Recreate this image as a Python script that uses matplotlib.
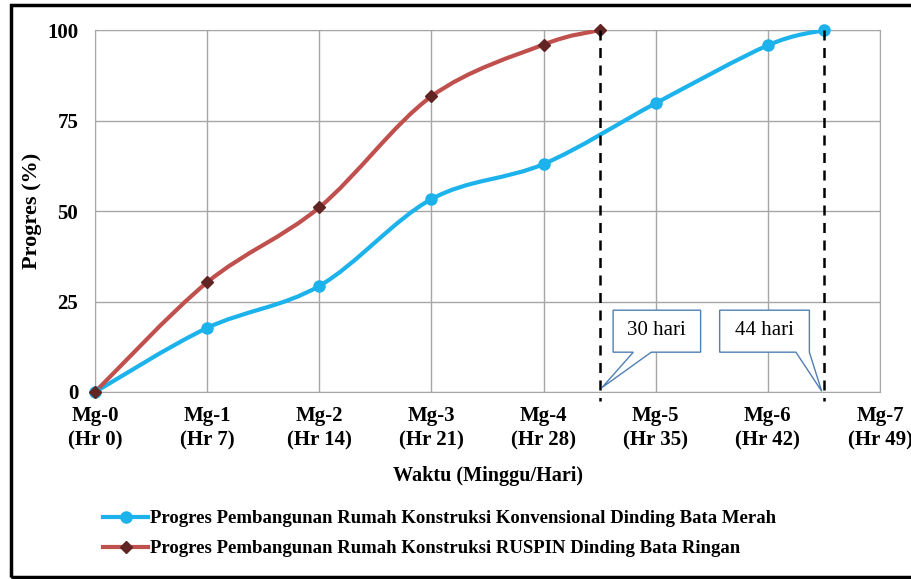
import matplotlib.pyplot as plt
import matplotlib.patches as mpatches
from matplotlib.path import Path
from matplotlib.lines import Line2D
import numpy as np

plt.rcParams['font.family'] = ['Liberation Serif', 'DejaVu Serif']
plt.rcParams['font.weight'] = 'bold'

# data (x in weeks)
week_labels = ['Mg-0\n(Hr 0)', 'Mg-1\n(Hr 7)', 'Mg-2\n(Hr 14)', 'Mg-3\n(Hr 21)',
               'Mg-4\n(Hr 28)', 'Mg-5\n(Hr 35)', 'Mg-6\n(Hr 42)', 'Mg-7\n(Hr 49)']
konv_x = [0, 1, 2, 3, 4, 5, 6, 6.5]
konv_y = [0, 17.7, 29.3, 53.3, 63.0, 79.8, 95.8, 100]
ruspin_x = [0, 1, 2, 3, 4, 4.5]
ruspin_y = [0, 30.3, 51.0, 81.7, 96.0, 100]
finish_x = [4.5, 6.5]
finish_labels = ['30 hari', '44 hari']

label_konv = 'Progres Pembangunan Rumah Konstruksi Konvensional Dinding Bata Merah'
label_ruspin = 'Progres Pembangunan Rumah Konstruksi RUSPIN Dinding Bata Ringan'

blue = '#1CB2EC'
red = '#C0504D'
dark_red = '#632523'


def smooth_path(xs, ys, t=1/6):
    # excel-like smoothed line: catmull-rom through the points as cubic beziers
    p = np.column_stack([xs, ys]).astype(float)
    verts = [p[0]]
    codes = [Path.MOVETO]
    n = len(p)
    for i in range(n - 1):
        p0 = p[i - 1] if i > 0 else p[i]
        p3 = p[i + 2] if i + 2 < n else p[i + 1]
        c1 = p[i] + (p[i + 1] - p0) * t
        c2 = p[i + 1] - (p3 - p[i]) * t
        verts += [c1, c2, p[i + 1]]
        codes += [Path.CURVE4] * 3
    return Path(verts, codes)


fig = plt.figure(figsize=(9.11, 5.79), dpi=100)
ax = fig.add_axes([0.1043, 0.323, 0.8617, 0.625])

ax.set_xlim(0, 7)
ax.set_ylim(0, 100)
ax.set_xticks(range(8))
ax.set_xticklabels(week_labels, fontsize=15, fontweight='bold', linespacing=1.3)
ax.set_yticks([0, 25, 50, 75, 100])
ax.set_yticklabels(['0', '25', '50', '75', '100'], fontsize=15, fontweight='bold')
ax.tick_params(length=0, pad=12)
ax.tick_params(axis='x', pad=10)
ax.grid(True, color='#A6A6A6', linewidth=1)
for s in ax.spines.values():
    s.set_color('#A6A6A6')
ax.set_axisbelow(True)

ax.add_patch(mpatches.PathPatch(smooth_path(konv_x, konv_y), fill=False,
                                edgecolor=blue, linewidth=3, zorder=3))
ax.plot(konv_x, konv_y, linestyle='none', marker='o', markersize=8,
        color=blue, zorder=4, clip_on=False)
ax.add_patch(mpatches.PathPatch(smooth_path(ruspin_x, ruspin_y), fill=False,
                                edgecolor=red, linewidth=3, zorder=3))
ax.plot(ruspin_x, ruspin_y, linestyle='none', marker='D', markersize=6,
        color=dark_red, zorder=5, clip_on=False)

# dashed finish lines
for fx in finish_x:
    ax.plot([fx, fx], [100, -2.5], color='black', linestyle=(0, (4, 3)),
            linewidth=1.8, clip_on=False, zorder=6)

# callouts
callouts = [
    # box x0, x1, y0, y1, tail base a, b, tip
    (4.62, 5.40, 11.0, 22.6, 4.80, 4.96, (4.52, 1.2), finish_labels[0]),
    (5.57, 6.37, 11.0, 22.6, 6.25, 6.37, (6.48, 0.2), finish_labels[1]),
]
for x0, x1, y0, y1, a, b, tip, txt in callouts:
    poly = [(x0, y0), (a, y0), tip, (b, y0), (x1, y0), (x1, y1), (x0, y1)]
    ax.add_patch(mpatches.Polygon(poly, closed=True, facecolor='white',
                                  edgecolor='#4F7FB5', linewidth=1, zorder=7))
    ax.text((x0 + x1) / 2, (y0 + y1) / 2 + 0.2, txt, ha='center', va='center',
            fontsize=15, fontweight='normal', zorder=8)

ax.set_ylabel('Progres (%)', fontsize=16, fontweight='bold')
ax.yaxis.set_label_coords(-0.068, 0.5)
ax.set_xlabel('Waktu (Minggu/Hari)', fontsize=14.5, fontweight='bold', labelpad=11)

handles = [
    Line2D([], [], color=blue, linewidth=3, marker='o', markersize=8),
    Line2D([], [], color=red, linewidth=3, marker='D', markersize=6,
           markerfacecolor=dark_red, markeredgecolor=dark_red),
]
fig.legend(handles, [label_konv, label_ruspin], loc='upper left',
           bbox_to_anchor=(0.105, 0.132), frameon=False, fontsize=13.5,
           handlelength=2.4, handletextpad=0.1, labelspacing=0.7,
           borderaxespad=0)

# outer frame
fig.add_artist(mpatches.Rectangle((0.012, 0.004), 0.995, 0.987,
                                  transform=fig.transFigure, fill=False,
                                  edgecolor='black', linewidth=2.5))

fig.savefig('out.png', dpi=100)
